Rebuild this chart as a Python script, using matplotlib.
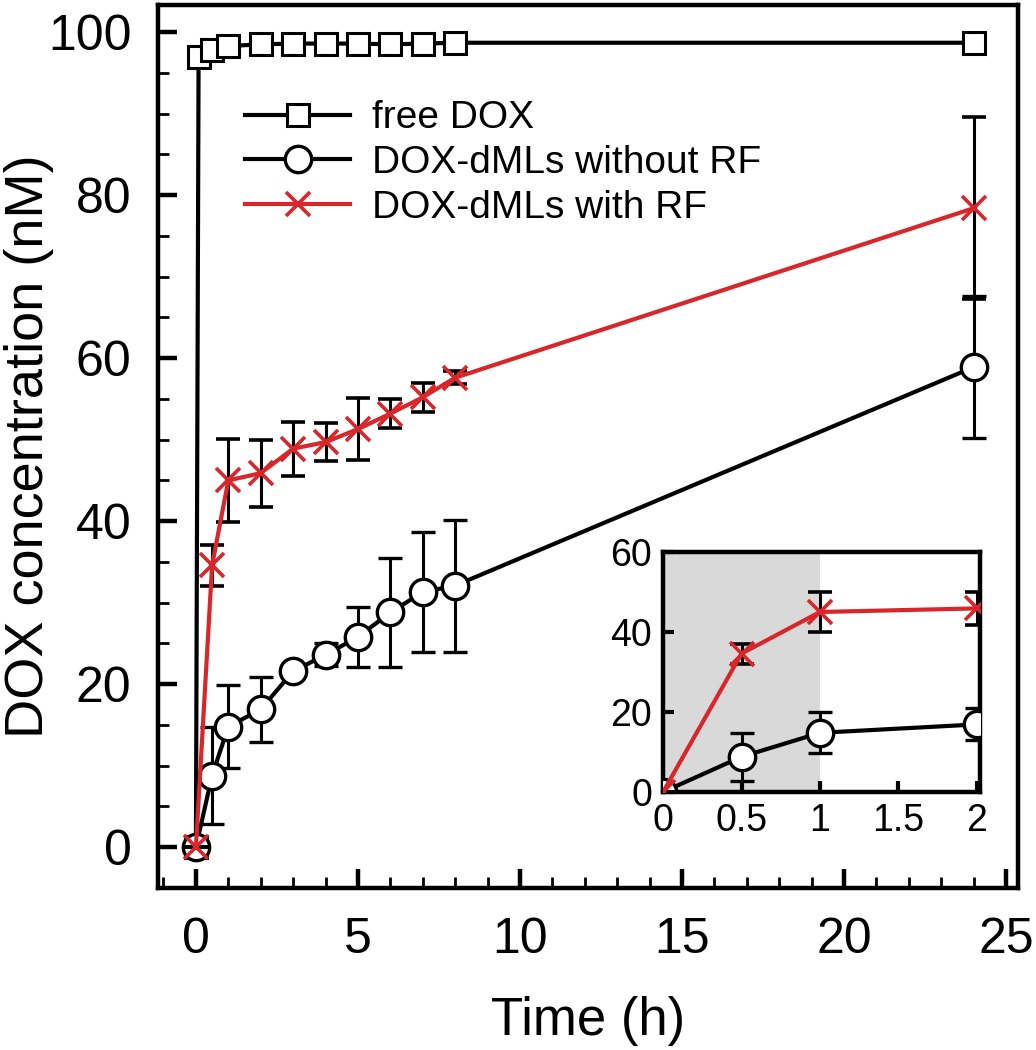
import numpy as np
import matplotlib

matplotlib.use("Agg")
import matplotlib.pyplot as plt  # noqa: E402
from matplotlib.lines import Line2D  # noqa: E402
from matplotlib.ticker import MultipleLocator  # noqa: E402

plt.rcParams["font.family"] = ["Liberation Sans", "DejaVu Sans"]

RED = "#d8262a"

# free DOX
t_free = [0, 0.083, 0.5, 1, 2, 3, 4, 5, 6, 7, 8, 24]
c_free = [0, 96.9, 97.8, 98.3, 98.5, 98.6, 98.6, 98.6, 98.5, 98.6, 98.7, 98.7]

# DOX-dMLs without RF
t_ml = [0, 0.5, 1, 2, 3, 4, 5, 6, 7, 8, 24]
c_norf = [0, 8.8, 14.8, 16.9, 21.6, 23.6, 25.8, 28.8, 31.3, 32.1, 58.9]
e_norf = [0, 6.0, 5.1, 4.0, 0.5, 1.4, 3.7, 6.7, 7.4, 8.1, 8.7]

# DOX-dMLs with RF
c_rf = [0, 34.6, 45.0, 45.9, 48.9, 49.7, 51.3, 53.2, 55.2, 57.6, 78.4]
e_rf = [0, 2.5, 5.1, 4.1, 3.3, 2.3, 3.8, 1.8, 1.8, 0.8, 11.2]

labels = ["free DOX", "DOX-dMLs without RF", "DOX-dMLs with RF"]

LW = 3.0
ELW = 2.2
CAP = 8.5
sq_kw = dict(color="black", lw=LW, marker="s", ms=16, mfc="white", mec="black", mew=2.2)
ci_kw = dict(color="black", lw=LW, marker="o", ms=19, mfc="white", mec="black", mew=2.4)
x_kw = dict(color=RED, lw=LW, marker="x", ms=17, mew=2.6)


def draw_ml(a):
    a.errorbar(t_ml, c_norf, yerr=e_norf, ecolor="black", elinewidth=ELW,
               capsize=CAP, capthick=ELW, zorder=4, **ci_kw)
    a.errorbar(t_ml, c_rf, yerr=e_rf, ecolor="black", elinewidth=ELW,
               capsize=CAP, capthick=ELW, zorder=5, **x_kw)


fig = plt.figure(figsize=(10.36, 10.5), dpi=100)
ax = fig.add_axes([0.1525, 0.1543, 0.8301, 0.8407])

ax.plot(t_free, c_free, zorder=3, **sq_kw)
draw_ml(ax)

ax.set_xlim(-1.17, 25.37)
ax.set_ylim(-5, 103.3)
ax.xaxis.set_major_locator(MultipleLocator(5))
ax.xaxis.set_minor_locator(MultipleLocator(1))
ax.yaxis.set_major_locator(MultipleLocator(20))
ax.yaxis.set_minor_locator(MultipleLocator(5))
ax.tick_params(which="both", direction="in", top=False, right=False,
               labelsize=36)
ax.tick_params(axis="y", pad=19)
ax.tick_params(axis="x", pad=21)
ax.tick_params(which="major", length=14, width=3.2)
ax.tick_params(which="minor", length=8, width=2)
for s in ax.spines.values():
    s.set_linewidth(3.2)

ax.set_xlabel("Time (h)", fontsize=38, labelpad=24)
ax.set_ylabel("DOX concentration (nM)", fontsize=39)
ax.yaxis.set_label_coords(-0.121, 0.5)

handles = [Line2D([], [], **sq_kw), Line2D([], [], **ci_kw), Line2D([], [], **x_kw)]
ax.legend(handles, labels, loc="upper left", bbox_to_anchor=(0.07, 0.923),
          frameon=False, fontsize=28, handlelength=2.7, handletextpad=0.55,
          labelspacing=0.22, borderpad=0.2)

# inset
ins = fig.add_axes([0.640, 0.2457, 0.306, 0.2286])
ins.axvspan(0, 1, color="#d9d9d9", lw=0, zorder=0)
draw_ml(ins)
ins.set_xlim(0, 2.02)
ins.set_ylim(0, 60)
ins.set_xticks([0, 0.5, 1, 1.5, 2])
ins.set_xticklabels(["0", "0.5", "1", "1.5", "2"])
ins.set_yticks([0, 20, 40, 60])
ins.tick_params(direction="in", length=8, width=3, labelsize=27, pad=8)
for s in ins.spines.values():
    s.set_linewidth(3.2)

fig.savefig("out.png", dpi=100)
